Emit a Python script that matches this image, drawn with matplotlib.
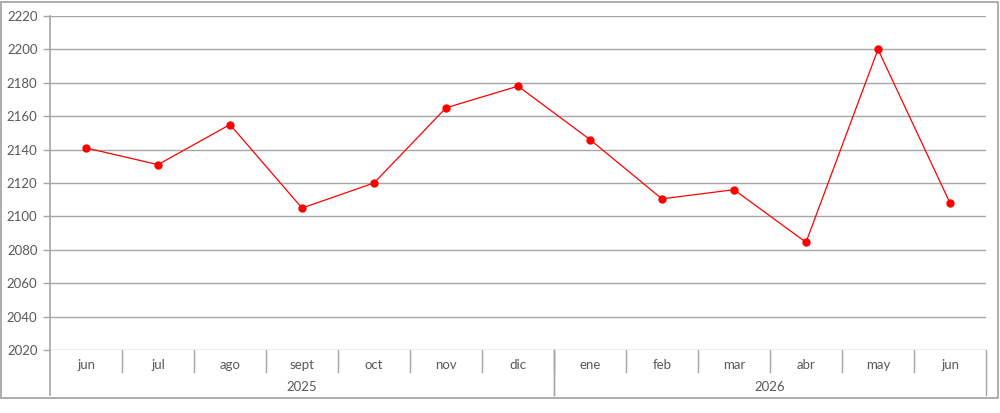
import matplotlib.pyplot as plt
import matplotlib.transforms as mtransforms
from matplotlib.patches import Rectangle

months = ["jun", "jul", "ago", "sept", "oct", "nov", "dic",
          "ene", "feb", "mar", "abr", "may", "jun"]
years = ["2025", "2026"]
year_spans = [(0, 7), (7, 13)]  # month index ranges per year
values = [2141, 2131, 2155, 2105, 2120, 2165, 2178,
          2146, 2110.5, 2116, 2084.5, 2200, 2108]

y_ticks = list(range(2020, 2221, 20))

text_color = "#595959"
grid_color = "#a6a6a6"
line_color = "#ff0000"

plt.rcParams["font.family"] = ["Lato", "DejaVu Sans"]

fig = plt.figure(figsize=(10, 4.13), dpi=100)
W, H = 1000, 413
ax = fig.add_axes([50 / W, (H - 350) / H, (986 - 50) / W, (350 - 16) / H])

x = list(range(len(months)))
ax.plot(x, values, color=line_color, linewidth=0.9, marker="o",
        markersize=5, zorder=3)

ax.set_xlim(-0.5, len(months) - 0.5)
ax.set_ylim(2020, 2220)
ax.set_yticks(y_ticks)
ax.tick_params(axis="y", labelsize=9.5, labelcolor=text_color, color=grid_color,
               length=5, width=1, pad=4)
ax.grid(axis="y", color=grid_color, linewidth=1)
ax.set_axisbelow(True)
ax.set_xticks([])
for side in ["top", "right", "bottom"]:
    ax.spines[side].set_visible(False)
ax.spines["left"].set_visible(False)

trans = mtransforms.blended_transform_factory(ax.transData, ax.transAxes)
ax_h = 350 - 16
sep_short = -22 / ax_h
sep_long = -45 / ax_h
sep_top = 1.0

# left axis line extending into the category area
ax.plot([-0.5, -0.5], [sep_long, sep_top], transform=trans, color=grid_color,
        linewidth=1.2, clip_on=False)

# month separators
for i in range(1, len(months)):
    ax.plot([i - 0.5, i - 0.5], [sep_short, 0], transform=trans,
            color=grid_color, linewidth=1, clip_on=False)

# year separators
for start, end in year_spans:
    for edge in (start, end):
        if edge == 0:
            continue
        ax.plot([edge - 0.5, edge - 0.5], [sep_long, 0], transform=trans,
                color=grid_color, linewidth=1, clip_on=False)

for i, m in enumerate(months):
    ax.text(i, -15 / ax_h, m, transform=trans, ha="center", va="center",
            fontsize=9.5, color=text_color)

for (start, end), yr in zip(year_spans, years):
    ax.text((start + end - 1) / 2, -37 / ax_h, yr, transform=trans,
            ha="center", va="center", fontsize=9.5, color=text_color)

fig.patches.append(Rectangle((1 / W, (H - 398) / H), 997 / W, 396 / H,
                             transform=fig.transFigure, fill=False,
                             edgecolor="#a0a0a0", linewidth=1.2))

fig.savefig("out.png", dpi=100)
